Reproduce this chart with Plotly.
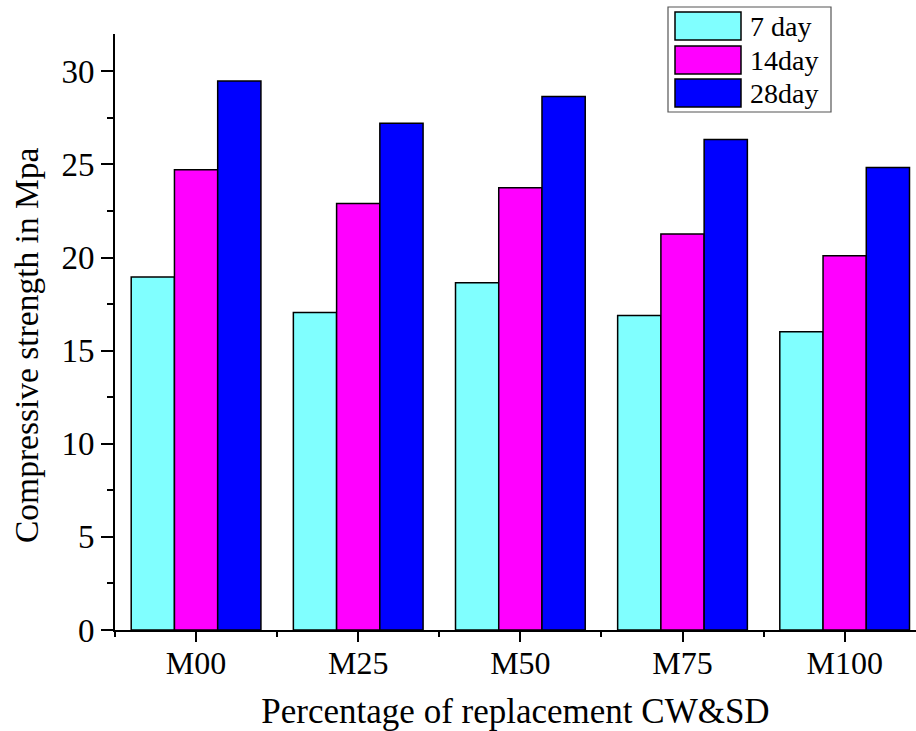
import plotly.graph_objects as go

# Compressive strength (MPa) by mix and curing age
categories = ["M00", "M25", "M50", "M75", "M100"]
series_names = ["7 day", "14day", "28day"]
strength_7day = [18.95, 17.05, 18.64, 16.89, 16.02]
strength_14day = [24.71, 22.90, 23.74, 21.26, 20.10]
strength_28day = [29.47, 27.21, 28.64, 26.33, 24.83]
series_values = [strength_7day, strength_14day, strength_28day]
colors = ["#80FFFF", "#FF00FF", "#0000FF"]

FONT = "Liberation Serif"
W, H = 916, 731
ML, MR, MT, MB = 115, 0, 34, 101
PW, PH = W - ML - MR, H - MT - MB

x_pos = list(range(len(categories)))

fig = go.Figure()
for name, vals, col in zip(series_names, series_values, colors):
    fig.add_trace(go.Bar(
        x=x_pos, y=vals, name=name,
        marker=dict(color=col, line=dict(color="black", width=1.5)),
        showlegend=False,
    ))


def px_x(p):
    return (p - ML) / PW


def px_y(p):
    return (H - MB - p) / PH


# Legend box with large swatches
shapes = [dict(type="rect", xref="paper", yref="paper",
               x0=px_x(668), x1=px_x(831), y0=px_y(112), y1=px_y(7),
               line=dict(color="#555555", width=1.2), fillcolor="white")]
annotations = []
row_tops = [12, 46, 79]
for name, col, top in zip(series_names, colors, row_tops):
    shapes.append(dict(type="rect", xref="paper", yref="paper",
                       x0=px_x(675), x1=px_x(741), y0=px_y(top + 28), y1=px_y(top),
                       line=dict(color="black", width=1.5), fillcolor=col))
    annotations.append(dict(xref="paper", yref="paper", x=px_x(748), y=px_y(top + 14),
                            text=name, showarrow=False, xanchor="left", yanchor="middle",
                            font=dict(family=FONT, size=28, color="black")))

# Y-axis title, rotated
annotations.append(dict(xref="paper", yref="paper", x=px_x(26), y=px_y(345),
                        text="Compressive strength in Mpa", textangle=-90, showarrow=False,
                        xanchor="center", yanchor="middle",
                        font=dict(family=FONT, size=33.5, color="black")))

fig.update_layout(
    width=W, height=H,
    margin=dict(l=ML, r=MR, t=MT, b=MB, pad=0),
    paper_bgcolor="white", plot_bgcolor="white",
    barmode="group", bargap=0.2, bargroupgap=0,
    font=dict(family=FONT, color="black"),
    shapes=shapes, annotations=annotations,
    xaxis=dict(
        range=[-0.5, 4.44], tickmode="array", tickvals=x_pos, ticktext=categories,
        showline=True, linecolor="black", linewidth=2,
        ticks="outside", ticklen=10, tickwidth=2, tickcolor="black",
        minor=dict(tick0=-0.5, dtick=1, ticks="outside", ticklen=5, tickwidth=2, tickcolor="black"),
        showgrid=False, zeroline=False,
        tickfont=dict(family=FONT, size=32), ticklabelstandoff=-6,
        title=dict(text="Percentage of replacement CW&SD", font=dict(family=FONT, size=35), standoff=20),
    ),
    yaxis=dict(
        range=[0, 32], tickmode="linear", tick0=0, dtick=5,
        showline=True, linecolor="black", linewidth=2,
        ticks="outside", ticklen=12, tickwidth=2, tickcolor="black",
        minor=dict(tick0=0, dtick=2.5, ticks="outside", ticklen=6, tickwidth=2, tickcolor="black"),
        showgrid=False, zeroline=False,
        tickfont=dict(family=FONT, size=33),
    ),
)

fig.write_html("out.html")
